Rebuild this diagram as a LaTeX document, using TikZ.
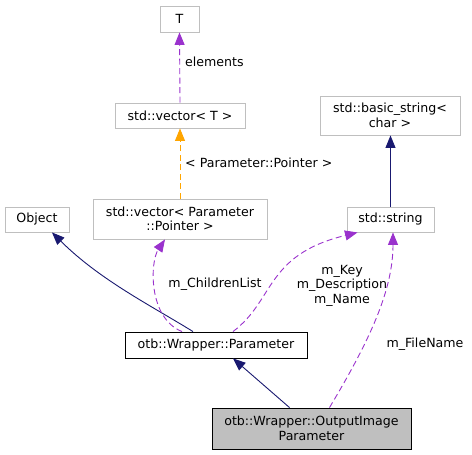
\documentclass[tikz,border=0pt]{standalone}
\usepackage{fontspec}
\setmainfont{DejaVu Sans}
\usetikzlibrary{arrows.meta,calc}
\definecolor{edgeblue}{HTML}{191970}
\definecolor{edgepurple}{HTML}{9A32CD}
\definecolor{edgeorange}{HTML}{FFA500}
\definecolor{boxgray}{HTML}{BFBFBF}
\tikzset{
  box/.style={draw=boxgray, line width=0.9pt, fill=white, inner sep=0pt, align=center,
    font=\fontsize{12.6}{14.5}\selectfont},
  mainbox/.style={box, draw=black},
  focusbox/.style={box, draw=black, fill=boxgray},
  inh/.style={draw=edgeblue, line width=0.9pt, -{Triangle[length=12.5pt,width=10pt]}},
  usage/.style={draw=edgepurple, line width=0.9pt, dash pattern=on 6pt off 3.5pt,
    -{Triangle[length=12.5pt,width=10pt]}},
  tmpl/.style={draw=edgeorange, line width=0.9pt, dash pattern=on 6pt off 3.5pt,
    -{Triangle[length=12.5pt,width=10pt]}},
  lbl/.style={inner sep=0pt, align=center, font=\fontsize{12.6}{14.5}\selectfont},
}
\begin{document}
\begin{tikzpicture}[x=1pt,y=-1pt]
\useasboundingbox (0,0) rectangle (472,455);
\node[box, minimum width=39pt, minimum height=26pt] (T) at (179.5,19) {T};
\node[box, minimum width=130pt, minimum height=25pt] (vecT) at (180,115.5) {std::vector< T >};
\node[box, minimum width=174pt, minimum height=40pt] (vecP) at (180,219) {std::vector< Parameter\\::Pointer >};
\node[box, minimum width=64pt, minimum height=25pt] (obj) at (37,219.5) {Object};
\node[mainbox, minimum width=182pt, minimum height=26pt] (param) at (216,345) {otb::Wrapper::Parameter};
\node[focusbox, minimum width=199pt, minimum height=41pt] (out) at (311.5,428.5) {otb::Wrapper::OutputImage\\Parameter};
\node[box, minimum width=87pt, minimum height=25pt] (str) at (390.5,219.5) {std::string};
\node[box, minimum width=140pt, minimum height=39pt] (basic) at (390,115.5) {std::basic\_string<\\char >};

\draw[usage] (vecT.north) -- (T.south);
\node[lbl, anchor=west] (lelem) at (185,62) {elements};
\draw[tmpl] (vecP.north) -- (vecT.south);
\node[lbl, anchor=west] (ltmpl) at (185,163) {< Parameter::Pointer >};
\draw[inh] (str.north) -- (str.north |- basic.south);
\draw[inh] ([xshift=-23pt]param.north) .. controls (150,305) and (100,280) .. ([xshift=15pt]obj.south);
\draw[usage] ([xshift=-34pt]param.north) .. controls (148,318) and (150,262) .. ([xshift=-15pt]vecP.south);
\node[lbl] (lchild) at (215,284) {m\_ChildrenList};
\draw[usage] ([xshift=17pt]param.north) .. controls (275,300) and (265,255) .. ([xshift=-33pt]str.south);
\node[lbl] (lkey) at (342,285.5) {m\_Key\\m\_Description\\m\_Name};
\draw[usage] ([xshift=18pt]out.north) .. controls (370,340) and (393,290) .. ([xshift=2.5pt]str.south);
\node[lbl] (lfile) at (425,344) {m\_FileName};
\draw[inh] ([xshift=-22pt]out.north) -- ([xshift=17pt]param.south);
\end{tikzpicture}
\end{document}
